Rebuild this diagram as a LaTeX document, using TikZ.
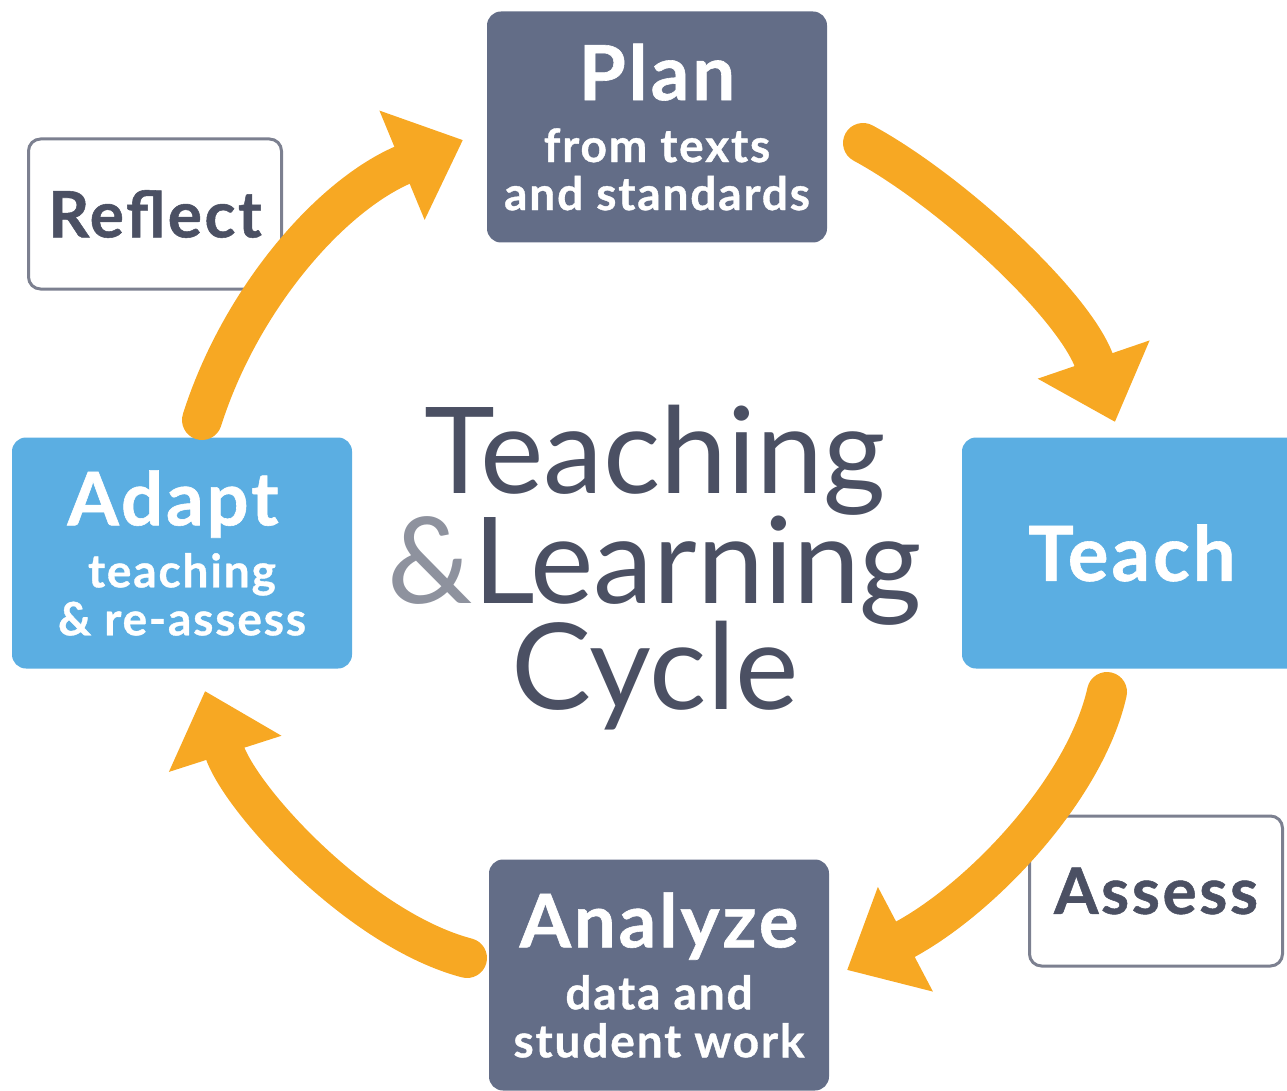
\documentclass[tikz,border=0pt]{standalone}
\usepackage{fontspec}
\setmainfont{Lato}
\usetikzlibrary{arrows.meta}
\definecolor{slate}{HTML}{636D87}
\definecolor{sky}{HTML}{5BAEE2}
\definecolor{amber}{HTML}{F7A823}
\definecolor{ink}{HTML}{4B5063}
\definecolor{rim}{HTML}{7C8090}
\definecolor{faint}{HTML}{8E929E}
\newcommand{\heavy}{\bfseries\addfontfeatures{FakeBold=0.8,LetterSpace=4}}
\newcommand{\tightlines}{\lineskiplimit=-200pt\relax}

\begin{document}
\begin{tikzpicture}[x=1pt,y=-1pt,
    stage/.style={rounded corners=14pt,minimum width=340pt,minimum height=231pt,inner sep=0pt,
        text=white,align=center,font=\heavy\fontsize{46}{48}\selectfont},
    slatebox/.style={stage,fill=slate},
    skybox/.style={stage,fill=sky},
    note/.style={draw=rim,line width=3pt,rounded corners=12pt,fill=white,text=ink,
        minimum width=253pt,minimum height=150pt,inner sep=0pt,font=\heavy\fontsize{64}{64}\selectfont},
    title/.style={font={\fontsize{120}{106}\selectfont\tightlines},text=ink,inner sep=0pt,align=center},
    cycle/.style={line width=40pt,draw=amber,line cap=round,-{Triangle[length=66pt,width=114pt]}}]
    \useasboundingbox (0,0) rectangle (1287,1091);

    % stages
    \node[slatebox] (plan) at (657,127) {{\fontsize{76}{76}\selectfont Plan}\\[14pt]from texts\\and standards};
    \node[skybox] (teach) at (1132,553) {{\fontsize{76}{76}\selectfont Teach}};
    \node[slatebox] (analyze) at (659,975) {{\fontsize{74}{74}\selectfont Analyze}\\[14pt]data and\\student work};
    \node[skybox] (adapt) at (182,553) {{\fontsize{74}{74}\selectfont Adapt\kern18pt}\\[14pt]teaching\\\& re-assess};

    % notes on the loop
    \node[note] (reflect) at (155,214) {Reflect};
    \node[note] (assess) at (1156,891) {Assess};

    % centre title
    \node[title,anchor=north] (cyc) at (655,405) {Teaching\\[4pt]{\color{faint}\&}Learning\\Cycle};

    % loop arrows
    \coordinate (r1) at (202,420);  \coordinate (r2) at (463,140);
    \coordinate (p1) at (863,143);  \coordinate (p2) at (1115,422);
    \coordinate (t1) at (1107,692); \coordinate (t2) at (847,970);
    \coordinate (a1) at (467,958);  \coordinate (a2) at (205,691);
    \draw[cycle] (r1) .. controls (240,300) and (330,195) .. (r2);
    \draw[cycle] (p1) .. controls (950,190) and (1075,305) .. (p2);
    \draw[cycle] (t1) .. controls (1085,790) and (980,900) .. (t2);
    \draw[cycle] (a1) .. controls (360,930) and (240,800) .. (a2);
\end{tikzpicture}
\end{document}
